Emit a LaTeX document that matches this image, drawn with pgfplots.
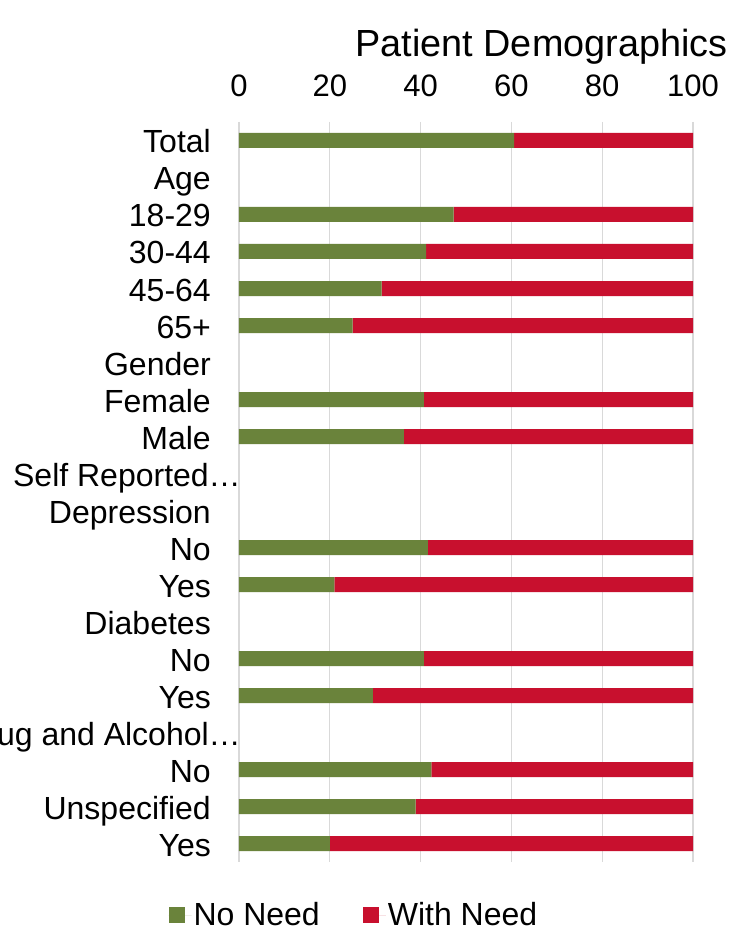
\documentclass[border=0pt]{standalone}
\usepackage{fontspec}
\setmainfont{Liberation Sans}
\usepackage{pgfplots}
\pgfplotsset{compat=1.18}
\definecolor{nn}{RGB}{106,131,59}
\definecolor{wn}{RGB}{200,16,46}
\definecolor{gridc}{RGB}{217,217,217}
\begin{document}
\begin{tikzpicture}
\path[use as bounding box] (0,0) rectangle (738pt,931pt);
\clip (0,0) rectangle (738pt,931pt);
\begin{axis}[
  at={(239pt,69pt)}, anchor=south west,
  scale only axis, width=454pt, height=740pt,
  xbar stacked, bar width=15pt,
  xmin=0, xmax=100, ymin=-0.5, ymax=19.5, y dir=reverse,
  xtick={0,20,...,100}, xticklabel pos=upper,
  ytick={0,...,19},
  yticklabels={Total, Age, 18-29, 30-44, 45-64, 65+, Gender, Female, Male, {Self Reported…\hspace*{-30pt}}, Depression, No, Yes, Diabetes, No, Yes, {Drug and Alcohol…\hspace*{-30pt}}, No, Unspecified, Yes},
  /pgf/number format/assume math mode=true,
  xticklabel style={font=\fontsize{31}{36}\selectfont, anchor=base, yshift=25pt, inner sep=0pt},
  yticklabel style={font=\fontsize{32}{38}\selectfont, anchor=base east, xshift=-28pt, yshift=-12.5pt, inner sep=0pt},
  xmajorgrids, ymajorgrids=false,
  grid style={gridc, line width=1.2pt},
  axis line style={draw=none},
  major tick length=0pt,
  legend columns=2,
  legend style={draw=none, at={(axis description cs:0.253,0)}, anchor=center, yshift=-53pt,
    font=\fontsize{32}{38}\selectfont,
    /tikz/every even column/.append style={column sep=41pt}},
  legend image code/.code={\path (0pt,0pt) -- (23pt,0pt); \fill[#1,draw=none] (0pt,-8pt) rectangle (16pt,8pt);},
]
\addplot[fill=nn, draw=none] coordinates {
  (60.6,0) (47.3,2) (41.2,3) (31.4,4) (25.0,5) (40.7,7) (36.3,8)
  (41.6,11) (21.0,12) (40.7,14) (29.5,15) (42.4,17) (38.9,18) (20.0,19)};
\addplot[fill=wn, draw=none] coordinates {
  (39.4,0) (52.7,2) (58.8,3) (68.6,4) (75.0,5) (59.3,7) (63.7,8)
  (58.4,11) (79.0,12) (59.3,14) (70.5,15) (57.6,17) (61.1,18) (80.0,19)};
\legend{No Need, With Need}
\end{axis}
\node[font=\fontsize{37.8}{44}\selectfont, anchor=base, inner sep=0pt] at (541.5pt,874pt) {Patient Demographics};
\end{tikzpicture}
\end{document}
